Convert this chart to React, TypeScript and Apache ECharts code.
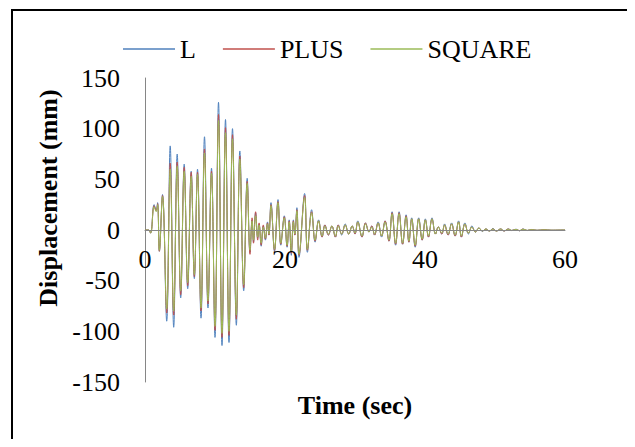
import React, { useEffect, useRef } from "react";
import * as echarts from "echarts";

const times = [
  0, 0.5, 0.8, 1.3, 1.6, 1.8, 2.05, 2.5, 3.1, 3.6,
  4.1, 4.6, 5.1, 5.6, 6.1, 6.6, 7.05, 7.5, 8.0, 8.5,
  9.0, 9.5, 10.0, 10.5, 11.0, 11.5, 12.0, 12.5, 13.05, 13.55,
  14.1, 14.6, 15.0, 15.3, 15.5, 15.8, 16.1, 16.3, 16.6, 16.9,
  17.2, 17.5, 17.7, 18.0, 18.5, 19.0, 19.4, 19.9, 20.3, 20.6,
  20.9, 21.2, 21.4, 21.7, 22.0, 22.8, 23.2, 23.8, 24.3, 24.8,
  25.3, 25.7, 26.2, 26.7, 27.2, 27.6, 28.1, 28.6, 29.1, 29.6,
  30.0, 30.4, 31.0, 31.5, 32.0, 32.4, 32.8, 33.3, 33.8, 34.3,
  34.85, 35.3, 35.8, 36.3, 36.8, 37.3, 37.7, 38.1, 38.6, 39.1,
  39.6, 40.05, 40.5, 41.0, 41.5, 41.9, 42.4, 42.8, 43.3, 43.8,
  44.3, 44.8, 45.2, 45.7, 46.2, 46.7, 47.2, 47.7, 48.2, 48.7,
  49.2, 49.7, 50.2, 50.8, 51.3, 51.9, 52.4, 53.0, 53.5, 54.0,
  54.6, 55.2, 56.0, 57.0, 58.0, 60.0,
];

const seriesL = [
  0, 0, -3, 25, 20, 27, -21, 35, -90, 83,
  -96, 75, -67, 65, -58, 58, -48, 60, -87, 92,
  -77, 61, -106, 126, -114, 109, -111, 100, -94, 78,
  -60, 51, -22, 10, -12, 17, -8, 6, -16, 4,
  -10, 8, -5, 27, -21, 30, -15, 14, -17, 10,
  -25, 10, -5, 22, -27, 36, -22, 20, -12, 10,
  -7, 5, -5, 4, -7, 5, -5, 6, -4, 4,
  -4, 9, -7, 7, -2, 4, -5, 8, -7, 9,
  -11, 18, -15, 18, -14, 15, -12, 12, -17, 12,
  -10, 11, -7, 12, -4, 3, -4, 6, -5, 7,
  -6, 9, -7, 7, -4, 4, -2, 2, -1.5, 1,
  -1, 1.5, -1, 1, -1, 1, -0.5, 0.8, -0.8, 1,
  -0.5, 0.5, -0.3, 0.3, -0.2, 0,
];

const seriesPlus = [
  0, 0, -3, 24, 19, 26, -21, 34, -82, 66,
  -84, 67, -64, 62, -55, 57, -46, 57, -80, 80,
  -73, 58, -99, 114, -106, 101, -104, 94, -88, 73,
  -57, 48, -24, 12, -13, 18, -10, 7, -15, 5,
  -9, 7, -5, 25, -20, 28, -14, 13, -16, 9,
  -23, 9, -5, 20, -25, 34, -20, 18, -11, 9,
  -7, 5, -5, 4, -7, 5, -4, 5, -4, 4,
  -4, 8, -7, 7, -2, 4, -5, 7, -6, 9,
  -11, 17, -14, 17, -14, 14, -12, 11, -16, 11,
  -10, 10, -7, 11, -4, 3, -4, 5, -5, 6,
  -6, 8, -7, 6, -3, 3, -2, 2, -1, 1,
  -1, 1, -1, 1, -1, 1, -0.5, 0.7, -0.7, 0.9,
  -0.5, 0.5, -0.3, 0.3, -0.2, 0,
];

const seriesSquare = [
  0, 0, -3, 23, 18, 25, -20, 33, -78, 60,
  -80, 63, -60, 58, -52, 53, -44, 55, -77, 76,
  -70, 56, -95, 108, -102, 96, -100, 90, -84, 70,
  -54, 46, -20, 9, -10, 14, -7, 5, -13, 3,
  -8, 6, -4, 24, -19, 27, -13, 12, -15, 8,
  -21, 8, -4, 19, -24, 32, -19, 17, -10, 9,
  -6, 4, -4, 4, -6, 4, -4, 5, -4, 4,
  -3, 8, -6, 6, -2, 3, -4, 7, -6, 8,
  -10, 16, -13, 16, -13, 13, -11, 11, -15, 11,
  -9, 10, -6, 11, -4, 3, -3, 5, -4, 6,
  -5, 8, -6, 6, -3, 3, -2, 2, -1, 1,
  -1, 1, -1, 1, -0.8, 0.8, -0.5, 0.6, -0.6, 0.8,
  -0.4, 0.4, -0.3, 0.2, -0.2, 0,
];

const seriesNames = ["L", "PLUS", "SQUARE"];
const seriesColors = ["#4F81BD", "#C0504D", "#9BBB59"];
const xTicks = { min: 0, max: 60, interval: 20 };
const yTicks = { min: -150, max: 150, interval: 50 };

const FONT = "'Liberation Serif', 'Times New Roman', serif";

export default function App() {
  const ref = useRef<HTMLDivElement>(null);
  useEffect(() => {
    if (!ref.current) return;
    const chart = echarts.init(ref.current, null, { renderer: "svg" });
    const allData = [seriesL, seriesPlus, seriesSquare];
    chart.setOption({
      animation: false,
      backgroundColor: "#ffffff",
      textStyle: { fontFamily: FONT },
      grid: { left: 145, right: 70, top: 78, bottom: 65, containLabel: false },
      legend: {
        data: seriesNames.map((n) => ({ name: n, icon: "rect" })),
        left: 118,
        top: 31,
        itemWidth: 52,
        itemHeight: 1.5,
        itemGap: 27,
        textStyle: { fontFamily: FONT, fontSize: 26, color: "#000" },
      },
      xAxis: {
        type: "value",
        min: xTicks.min,
        max: xTicks.max,
        interval: xTicks.interval,
        z: 5,
        offset: -152,
        axisLine: { show: true, onZero: false, lineStyle: { color: "#868686", width: 1 } },
        axisTick: { show: false },
        splitLine: { show: false },
        axisLabel: { fontFamily: FONT, fontSize: 26, color: "#000", margin: 16 },
      },
      yAxis: {
        type: "value",
        min: yTicks.min,
        max: yTicks.max,
        interval: yTicks.interval,
        axisLine: { show: true, lineStyle: { color: "#868686", width: 1 } },
        axisTick: { show: false },
        splitLine: { show: false },
        axisLabel: { fontFamily: FONT, fontSize: 26, color: "#000", margin: 25 },
      },
      series: seriesNames.map((name, i) => ({
        name,
        type: "line",
        showSymbol: false,
        symbol: "none",
        smooth: 0.4,
        color: seriesColors[i],
        itemStyle: { color: seriesColors[i] },
        lineStyle: { color: seriesColors[i], width: 1 },
        data: times.map((t, j) => [t, allData[i][j]]),
      })),
      graphic: [
        {
          type: "rect",
          shape: { x: 12, y: 10, width: 660, height: 470 },
          style: { fill: "none", stroke: "#000", lineWidth: 2 },
          silent: true,
        },
        {
          type: "text",
          x: 48,
          y: 198,
          rotation: Math.PI / 2,
          style: {
            text: "Displacement (mm)",
            fontFamily: FONT,
            fontSize: 26,
            fontWeight: "bold",
            fill: "#000",
            align: "center",
            verticalAlign: "middle",
          },
        },
        {
          type: "text",
          x: 355,
          y: 405,
          style: {
            text: "Time (sec)",
            fontFamily: FONT,
            fontSize: 26,
            fontWeight: "bold",
            fill: "#000",
            align: "center",
            verticalAlign: "middle",
          },
        },
      ],
    });
    return () => chart.dispose();
  }, []);
  return <div ref={ref} style={{ width: 635, height: 447, margin: -8 }} />;
}
